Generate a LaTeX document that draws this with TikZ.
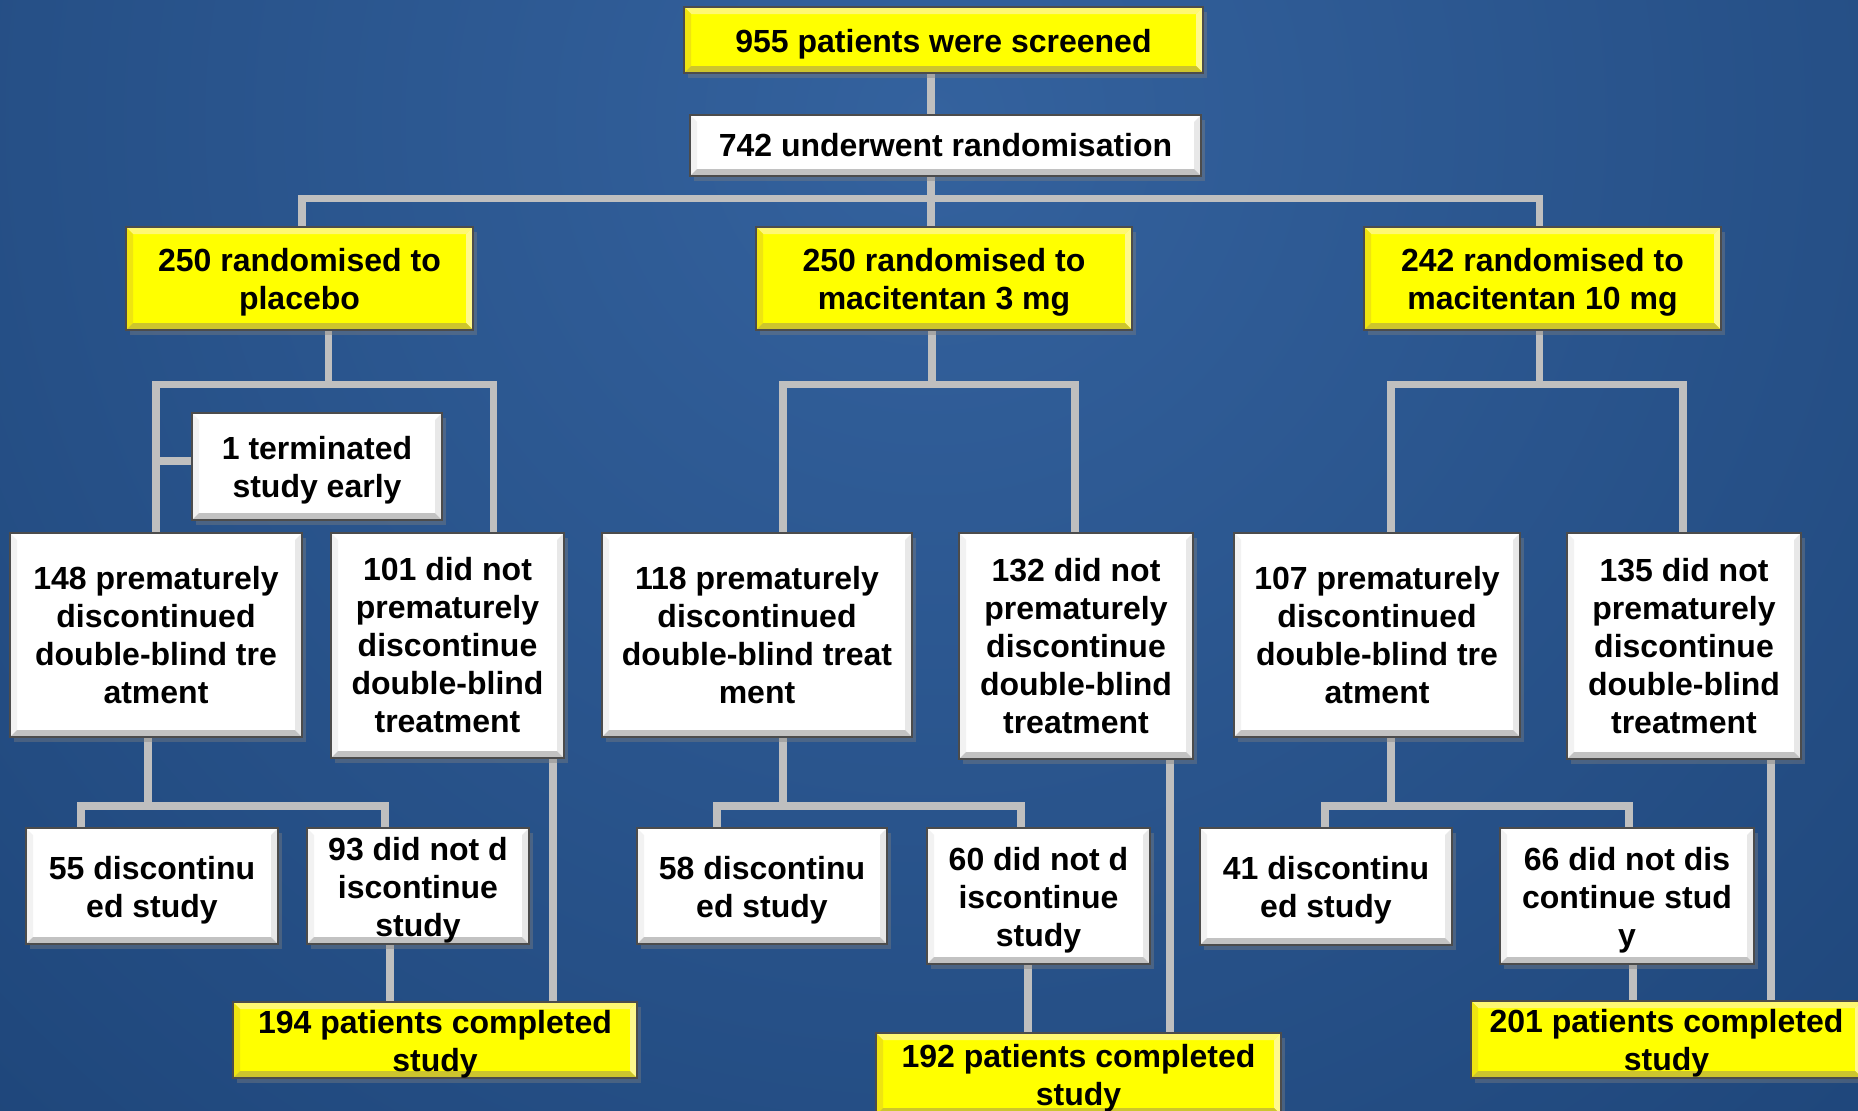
\documentclass[tikz,border=0pt]{standalone}
\usepackage{fontspec}
\setmainfont{Liberation Sans}
\usetikzlibrary{shadows}
\pgfdeclarelayer{bg}
\pgfsetlayers{bg,main}
\definecolor{bgtop}{RGB}{52,98,158}
\definecolor{bgdark}{RGB}{21,58,107}
\definecolor{conncol}{RGB}{191,191,191}
\definecolor{boxyellow}{RGB}{255,255,0}
\newcommand{\mystrut}{\rule{0pt}{31pt}}
\newcommand{\mybevel}[4]{%
 \fill[#1] (path picture bounding box.north west) -- (path picture bounding box.north east) -- ([shift={(-7pt,-7pt)}]path picture bounding box.north east) -- ([shift={(7pt,-7pt)}]path picture bounding box.north west) -- cycle;
 \fill[#2] (path picture bounding box.north west) -- ([shift={(7pt,-7pt)}]path picture bounding box.north west) -- ([shift={(7pt,7pt)}]path picture bounding box.south west) -- (path picture bounding box.south west) -- cycle;
 \fill[#3] (path picture bounding box.north east) -- ([shift={(-7pt,-7pt)}]path picture bounding box.north east) -- ([shift={(-7pt,7pt)}]path picture bounding box.south east) -- (path picture bounding box.south east) -- cycle;
 \fill[#4] (path picture bounding box.south west) -- ([shift={(7pt,7pt)}]path picture bounding box.south west) -- ([shift={(-7pt,7pt)}]path picture bounding box.south east) -- (path picture bounding box.south east) -- cycle;
}
\tikzset{
 boxbase/.style={draw=black!70, line width=1.2pt, inner sep=0pt, align=center,
   font=\fontsize{32}{38}\selectfont\bfseries,
   drop shadow={shadow xshift=4pt, shadow yshift=-5pt, opacity=0.4}},
 wbox/.style={boxbase, fill=white, path picture={\mybevel{white}{black!5}{black!9}{black!24}}},
 ybox/.style={boxbase, fill=boxyellow, path picture={\mybevel{yellow!55!white}{yellow!93!black}{yellow!45!white}{yellow!78!black}}},
 conn/.style={draw=conncol, line width=7.5pt, line join=miter},
 sz/.style 2 args={minimum width=#1pt, minimum height=#2pt},
}
\begin{document}
\begin{tikzpicture}[x=1pt,y=-1pt]
\useasboundingbox (0,0) rectangle (1858,1111);
% nodes
\node[ybox, sz={519}{66}] (screen) at (943.5,40) {\mystrut955 patients were screened};
\node[wbox, sz={511}{61}] (rand) at (945.5,145.5) {742 underwent randomisation};
\node[ybox, sz={347}{103}] (pl) at (299.5,278.5) {\mystrut250 randomised to\\placebo};
\node[ybox, sz={376}{103}] (m3) at (944,278.5) {\mystrut250 randomised to\\macitentan 3 mg};
\node[ybox, sz={357}{103}] (m10) at (1542.5,278.5) {\mystrut242 randomised to\\macitentan 10 mg};
\node[wbox, sz={250}{107}] (term) at (317,466.5) {\mystrut1 terminated\\study early};
\node[wbox, sz={292}{204}] (d148) at (156,635) {148 prematurely\\discontinued\\double-blind tre\\atment};
\node[wbox, sz={233}{225}] (n101) at (447.5,645.5) {101 did not\\prematurely\\discontinue\\double-blind\\treatment};
\node[wbox, sz={310}{204}] (d118) at (757,635) {118 prematurely\\discontinued\\double-blind treat\\ment};
\node[wbox, sz={234}{226}] (n132) at (1076,646) {132 did not\\prematurely\\discontinue\\double-blind\\treatment};
\node[wbox, sz={286}{204}] (d107) at (1377,635) {107 prematurely\\discontinued\\double-blind tre\\atment};
\node[wbox, sz={234}{226}] (n135) at (1684,646) {135 did not\\prematurely\\discontinue\\double-blind\\treatment};
\node[wbox, sz={252}{116}] (s55) at (152,886) {\mystrut55 discontinu\\ed study};
\node[wbox, sz={222}{116}] (s93) at (418,886) {\mystrut93 did not d\\iscontinue\\study};
\node[wbox, sz={250}{116}] (s58) at (762,886) {\mystrut58 discontinu\\ed study};
\node[wbox, sz={223}{136}] (s60) at (1038.5,896) {\mystrut60 did not d\\iscontinue\\study};
\node[wbox, sz={252}{117}] (s41) at (1326,886.5) {\mystrut41 discontinu\\ed study};
\node[wbox, sz={254}{136}] (s66) at (1627,896) {\mystrut66 did not dis\\continue stud\\y};
\node[ybox, sz={404}{76}] (c194) at (435,1040) {\mystrut194 patients completed\\study};
\node[ybox, sz={405}{82}] (c192) at (1078.5,1074) {\mystrut192 patients completed\\study};
\node[ybox, sz={391}{77}] (c201) at (1666.5,1039.5) {\mystrut201 patients completed\\study};
% junction coordinates
\coordinate (xa) at (931,0);
\coordinate (tb) at (0,198.5);
\coordinate (xpl) at (302,0);
\coordinate (x10) at (1539.5,0);
\coordinate (xp0) at (328.5,0);
\coordinate (xm) at (932,0);
\coordinate (yb) at (0,384.5);
\coordinate (xl1) at (156,0);
\coordinate (xr1) at (493.5,0);
\coordinate (xl2) at (783,0);
\coordinate (xr2) at (1075,0);
\coordinate (xl3) at (1391,0);
\coordinate (xr3) at (1683,0);
\coordinate (yt) at (0,461);
\coordinate (ylb) at (0,806);
\coordinate (xd1) at (148,0);
\coordinate (xa1) at (81,0);
\coordinate (xb1) at (385,0);
\coordinate (xa2) at (717,0);
\coordinate (xb2) at (1021,0);
\coordinate (xa3) at (1325,0);
\coordinate (xb3) at (1629,0);
\coordinate (xc1) at (390,0);
\coordinate (xe1) at (553,0);
\coordinate (xc2) at (1028,0);
\coordinate (xe2) at (1170,0);
\coordinate (xc3) at (1633,0);
\coordinate (xe3) at (1771,0);
\begin{pgfonlayer}{bg}
\begin{scope}
\clip (0,0) rectangle (1858,1111);
\fill[bgdark] (0,0) rectangle (1858,1111);
\shade[inner color=bgtop, outer color=bgdark] (930,120) circle (2000pt);
\end{scope}
% connectors
\draw[conn] (screen.south -| xa) -- (rand.north -| xa);
\draw[conn] (rand.south -| xa) -- (m3.north -| xa);
\draw[conn] (pl.north -| xpl) -- (xpl |- tb) -- (x10 |- tb) -- (m10.north -| x10);
% placebo branch
\draw[conn] (pl.south -| xp0) -- (xp0 |- yb);
\draw[conn] (d148.north -| xl1) -- (xl1 |- yb) -- (xr1 |- yb) -- (n101.north -| xr1);
\draw[conn] (xl1 |- yt) -- (term.west |- yt);
% 3 mg branch
\draw[conn] (m3.south -| xm) -- (xm |- yb);
\draw[conn] (d118.north -| xl2) -- (xl2 |- yb) -- (xr2 |- yb) -- (n132.north -| xr2);
% 10 mg branch
\draw[conn] (m10.south -| x10) -- (x10 |- yb);
\draw[conn] (d107.north -| xl3) -- (xl3 |- yb) -- (xr3 |- yb) -- (n135.north -| xr3);
% lower branches
\draw[conn] (d148.south -| xd1) -- (xd1 |- ylb);
\draw[conn] (s55.north -| xa1) -- (xa1 |- ylb) -- (xb1 |- ylb) -- (s93.north -| xb1);
\draw[conn] (d118.south -| xl2) -- (xl2 |- ylb);
\draw[conn] (s58.north -| xa2) -- (xa2 |- ylb) -- (xb2 |- ylb) -- (s60.north -| xb2);
\draw[conn] (d107.south -| xl3) -- (xl3 |- ylb);
\draw[conn] (s41.north -| xa3) -- (xa3 |- ylb) -- (xb3 |- ylb) -- (s66.north -| xb3);
% to completed
\draw[conn] (s93.south -| xc1) -- (c194.north -| xc1);
\draw[conn] (n101.south -| xe1) -- (c194.north -| xe1);
\draw[conn] (s60.south -| xc2) -- (c192.north -| xc2);
\draw[conn] (n132.south -| xe2) -- (c192.north -| xe2);
\draw[conn] (s66.south -| xc3) -- (c201.north -| xc3);
\draw[conn] (n135.south -| xe3) -- (c201.north -| xe3);
\end{pgfonlayer}
\end{tikzpicture}
\end{document}
